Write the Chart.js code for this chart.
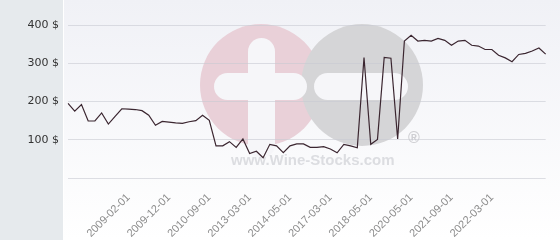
<!DOCTYPE html>
<html>
<head>
<meta charset="utf-8">
<script src="https://cdn.jsdelivr.net/npm/chart.js@4/dist/chart.umd.min.js"></script>
<style>
  body { margin: 0; background: #fff; }
  canvas { display: block; }
</style>
</head>
<body>
<canvas id="priceChart" width="560" height="240"></canvas>
<script>
// dates shown on the x axis, one label every 6 points
const categories = [
    "", "", "", "", "", "",
    "", "", "", "2009-02-01", "", "",
    "", "", "", "2009-12-01", "", "",
    "", "", "", "2010-09-01", "", "",
    "", "", "", "2013-03-01", "", "",
    "", "", "", "2014-05-01", "", "",
    "", "", "", "2017-03-01", "", "",
    "", "", "", "2018-05-01", "", "",
    "", "", "", "2020-05-01", "", "",
    "", "", "", "2021-09-01", "", "",
    "", "", "", "2022-03-01", "", "",
    "", "", "", "", "", ""
];

// price in $
const prices = [
    195, 175, 192, 149, 149, 170,
    141, 161, 181, 180, 179, 176,
    164, 138, 148, 146, 144, 143,
    147, 150, 164, 151, 84, 84,
    95, 80, 102, 64, 70, 53,
    88, 84, 66, 84, 89, 89,
    80, 80, 82, 76, 66, 88,
    84, 79, 315, 88, 101, 315,
    313, 102, 358, 373, 358, 360,
    358, 365, 360, 347, 358, 360,
    347, 345, 336, 336, 321, 314,
    304, 323, 326, 332, 340, 324
];

const yTicks = [0, 100, 200, 300, 400];

// achtergrond + watermerk
const backdrop = {
    id: "backdrop",
    beforeDraw(chart) {
        const c = chart.ctx;
        const w = chart.width, h = chart.height;
        c.save();
        // grijze strook links
        c.fillStyle = "#e6eaed";
        c.fillRect(0, 0, 63, h);
        c.fillStyle = "#ffffff";
        c.fillRect(63, 0, 1, h);
        // verloop rechts
        let g = c.createLinearGradient(0, 0, 0, h);
        g.addColorStop(0, "#f0f1f6");
        g.addColorStop(1, "#ffffff");
        c.fillStyle = g;
        c.fillRect(64, 0, w - 64, h);

        // watermerk: plus en min
        c.fillStyle = "#e9d0d8";
        c.beginPath();
        c.arc(261, 85, 61, 0, Math.PI * 2);
        c.fill();
        c.fillStyle = "#d5d5d7";
        c.beginPath();
        c.arc(362, 85, 61, 0, Math.PI * 2);
        c.fill();

        c.fillStyle = "#f6f6f9";
        c.beginPath();
        c.roundRect(214, 73, 93, 27, 13.5);
        c.fill();
        c.beginPath();
        c.roundRect(248, 38, 27, 120, 13.5);
        c.fill();
        c.beginPath();
        c.roundRect(314, 73, 94, 27, 13.5);
        c.fill();

        c.fillStyle = "#dcdde1";
        c.font = "bold 15px 'Liberation Sans', Arial, sans-serif";
        c.textAlign = "left";
        c.textBaseline = "alphabetic";
        c.fillText("www.Wine-Stocks.com", 231, 165);
        c.fillStyle = "#cfcfd3";
        c.font = "bold 16px 'Liberation Sans', Arial, sans-serif";
        c.textAlign = "center";
        c.textBaseline = "middle";
        c.fillText("\u00AE", 414, 139);
        c.restore();
    }
};

let ctx = document.getElementById("priceChart").getContext("2d");
new Chart(ctx, {
    type: "line",
    data: {
        labels: categories,
        datasets: [{
            data: prices,
            borderColor: "#3b2630",
            borderWidth: 1.2,
            pointRadius: 0,
            tension: 0,
            fill: false
        }]
    },
    options: {
        responsive: false,
        animation: false,
        devicePixelRatio: 1,
        layout: { padding: { top: 25, right: 5, bottom: 0, left: 0 } },
        plugins: {
            legend: { display: false },
            tooltip: { enabled: false }
        },
        scales: {
            x: {
                offset: false,
                grid: { display: false },
                border: { display: false },
                afterFit: s => { s.height = 62; },
                ticks: {
                    autoSkip: false,
                    maxRotation: 45,
                    minRotation: 45,
                    padding: 5,
                    color: "#8c8c8c",
                    font: { family: "'Liberation Sans', Arial, sans-serif", size: 11 },
                    callback: function (val, i) { return categories[i]; }
                }
            },
            y: {
                min: 0,
                max: 400,
                afterFit: s => { s.width = 68; },
                afterBuildTicks: s => { s.ticks = yTicks.map(v => ({ value: v })); },
                grid: { color: "rgba(200, 202, 210, 0.6)", drawTicks: false, lineWidth: 1 },
                border: { display: false },
                ticks: {
                    padding: 9,
                    color: "#333333",
                    font: { family: "'DejaVu Sans', sans-serif", size: 11 },
                    callback: v => v === 0 ? "" : v + " $"
                }
            }
        }
    },
    plugins: [backdrop]
});
</script>
</body>
</html>
